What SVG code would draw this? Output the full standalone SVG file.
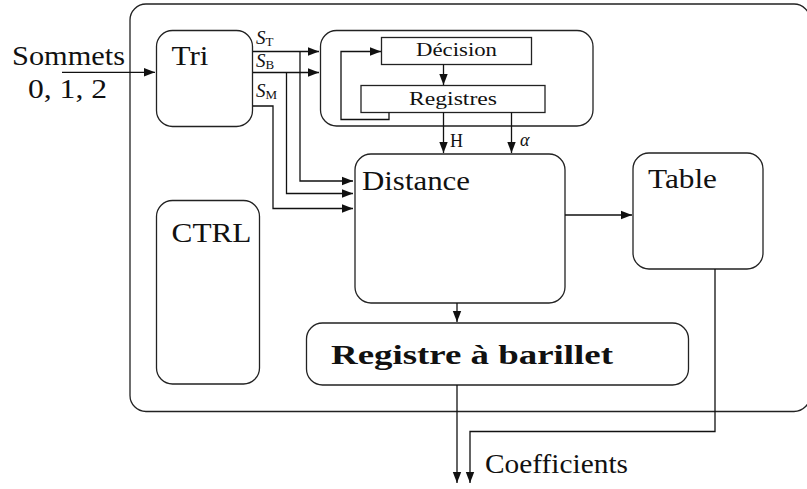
<svg xmlns="http://www.w3.org/2000/svg" width="807" height="489" viewBox="0 0 807 489">
<style>
.box{fill:none;stroke:#222;stroke-width:1.3}
.ln{fill:none;stroke:#111;stroke-width:1.3}
.t{font-family:"Liberation Serif","Times New Roman",serif;fill:#111}
.big{font-size:27px}
.sm{font-size:18px}
.b{font-weight:bold}
.s{font-size:19px;font-style:italic}
.sub{font-size:13px;font-style:normal}
</style>
<defs>
<marker id="ah" markerUnits="userSpaceOnUse" markerWidth="12" markerHeight="10" refX="11" refY="5" orient="auto">
<path d="M0,0.8 L11,5 L0,9.2 Z" fill="#111"/>
</marker>
</defs>
<g id="outer"><rect class="box" x="130" y="4" width="680" height="407.5" rx="16"/></g>
<g id="sommets">
<text class="t big" x="12" y="65" textLength="113" lengthAdjust="spacingAndGlyphs">Sommets</text>
<text class="t big" x="28" y="98" textLength="79" lengthAdjust="spacingAndGlyphs">0, 1, 2</text>
</g>
<g id="tri"><rect class="box" x="156.5" y="30.5" width="96" height="96" rx="16"/>
<text class="t big" x="171.5" y="65" textLength="37" lengthAdjust="spacingAndGlyphs">Tri</text></g>
<g id="module"><rect class="box" x="320.5" y="30.5" width="272.5" height="95.5" rx="16"/></g>
<g id="decision"><rect class="box" x="381.5" y="37.5" width="150" height="27"/>
<text class="t sm" x="416" y="56" textLength="81" lengthAdjust="spacingAndGlyphs">Décision</text></g>
<g id="registres"><rect class="box" x="361" y="85.5" width="184" height="27"/>
<text class="t sm" x="409" y="105" textLength="88" lengthAdjust="spacingAndGlyphs">Registres</text></g>
<g id="distance"><rect class="box" x="355" y="154" width="210" height="149" rx="16"/>
<text class="t big" x="362" y="190" textLength="108" lengthAdjust="spacingAndGlyphs">Distance</text></g>
<g id="table"><rect class="box" x="633" y="153" width="130" height="116" rx="16"/>
<text class="t big" x="648" y="188" textLength="69" lengthAdjust="spacingAndGlyphs">Table</text></g>
<g id="ctrl"><rect class="box" x="156.5" y="200.5" width="103" height="183.5" rx="16"/>
<text class="t big" x="171.5" y="242" textLength="80" lengthAdjust="spacingAndGlyphs">CTRL</text></g>
<g id="barillet"><rect class="box" x="306.5" y="323" width="382" height="62" rx="16"/>
<text class="t big b" x="331" y="364" textLength="282" lengthAdjust="spacingAndGlyphs">Registre à barillet</text></g>
<g id="connectors">
<path class="ln" d="M62,72.3 H155" marker-end="url(#ah)"/>
<path class="ln" d="M253,51.5 H319" marker-end="url(#ah)"/>
<path class="ln" d="M253,72.5 H319" marker-end="url(#ah)"/>
<path class="ln" d="M300,51.5 V181 H353" marker-end="url(#ah)"/>
<path class="ln" d="M286.5,72.5 V193.5 H353" marker-end="url(#ah)"/>
<path class="ln" d="M253,106 H273 V208.5 H353" marker-end="url(#ah)"/>
<path class="ln" d="M443.5,64.5 V85" marker-end="url(#ah)"/>
<path class="ln" d="M389,112.5 V119.5 H341 V51.5 H381" marker-end="url(#ah)"/>
<path class="ln" d="M443.5,112.5 V153" marker-end="url(#ah)"/>
<path class="ln" d="M511.5,112.5 V153" marker-end="url(#ah)"/>
<path class="ln" d="M565,215 H632" marker-end="url(#ah)"/>
<path class="ln" d="M457,303 V322" marker-end="url(#ah)"/>
<path class="ln" d="M457,385 V483" marker-end="url(#ah)"/>
<path class="ln" d="M715,269 V431.5 H470 V483" marker-end="url(#ah)"/>
</g>
<g id="labels">
<text class="t s" x="256" y="44">S<tspan class="sub" dy="2">T</tspan></text>
<text class="t s" x="256" y="67">S<tspan class="sub" dy="2">B</tspan></text>
<text class="t s" x="256" y="97">S<tspan class="sub" dy="2">M</tspan></text>
<text class="t sm" x="450" y="147">H</text>
<text class="t sm" x="520" y="146" font-style="italic">α</text>
<text class="t big" x="485" y="473" textLength="143" lengthAdjust="spacingAndGlyphs">Coefficients</text>
</g>
</svg>
